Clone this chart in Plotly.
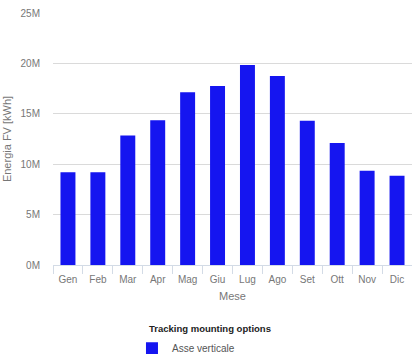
import plotly.graph_objects as go

mesi = ["Gen", "Feb", "Mar", "Apr", "Mag", "Giu", "Lug", "Ago", "Set", "Ott", "Nov", "Dic"]
energia_kwh = [9.2e6, 9.2e6, 12.85e6, 14.35e6, 17.15e6, 17.75e6, 19.85e6, 18.75e6, 14.3e6, 12.1e6, 9.35e6, 8.85e6]
y_tick_vals = [0, 5e6, 10e6, 15e6, 20e6, 25e6]
y_tick_text = ["0M", "5M", "10M", "15M", "20M", "25M"]

font = "Liberation Sans, Arial, sans-serif"

fig = go.Figure(
    go.Bar(
        x=mesi,
        y=energia_kwh,
        name="Asse verticale",
        marker=dict(color="#1515f0", line=dict(width=0)),
        showlegend=True,
    )
)

fig.update_layout(
    width=412,
    height=354,
    margin=dict(l=53, r=0, t=13, b=89, autoexpand=False),
    paper_bgcolor="white",
    plot_bgcolor="white",
    bargap=0.5,
    font=dict(family=font, size=10, color="#777777"),
    xaxis=dict(
        automargin=False,
        title=dict(text="Mese", font=dict(size=11, color="#777777"), standoff=8),
        tickson="boundaries",
        ticks="outside",
        ticklen=8,
        tickcolor="#d3dbe6",
        ticklabelstandoff=5,
        showline=True,
        linecolor="#d3dbe6",
        showgrid=False,
        tickfont=dict(size=10, color="#777777"),
    ),
    yaxis=dict(
        automargin=False,
        title=dict(text="Energia FV [kWh]", font=dict(size=11, color="#777777"), standoff=6),
        range=[0, 25e6],
        tickvals=y_tick_vals,
        ticktext=y_tick_text,
        showgrid=True,
        gridcolor="#dadada",
        zeroline=False,
        ticks="",
        ticklabelstandoff=12,
        tickfont=dict(size=10, color="#777777"),
    ),
    legend=dict(
        orientation="v",
        x=0.22,
        xanchor="left",
        y=-0.273,
        yanchor="top",
        font=dict(size=10, color="#555555"),
        itemwidth=30,
        tracegroupgap=0,
    ),
    annotations=[
        dict(
            text="<b>Tracking mounting options</b>",
            xref="paper", yref="paper",
            x=0.262, y=-0.25,
            xanchor="left", yanchor="middle",
            showarrow=False,
            font=dict(size=9.5, color="#222222", family=font),
        )
    ],
)

fig.write_html("out.html")
